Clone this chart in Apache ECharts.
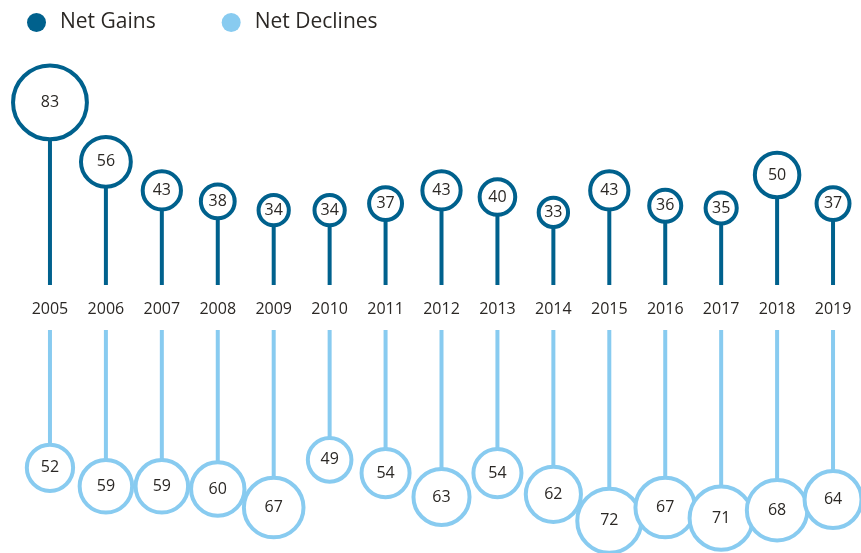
<!DOCTYPE html>
<html>
<head>
<meta charset="utf-8">
<script src="https://cdn.jsdelivr.net/npm/echarts@6/dist/echarts.min.js"></script>
<style>
	html, body { margin: 0; padding: 0; background: #fff; }
	#chart { width: 861px; height: 553px; }
</style>
</head>
<body>
<div id="chart"></div>
<script>
	const years = ['2005', '2006', '2007', '2008', '2009', '2010', '2011', '2012', '2013', '2014', '2015', '2016', '2017', '2018', '2019'];
	const netGains = [83, 56, 43, 38, 34, 34, 37, 43, 40, 33, 43, 36, 35, 50, 37];
	const netDeclines = [52, 59, 59, 60, 67, 49, 54, 63, 54, 62, 72, 67, 71, 68, 64];

	const dark = '#00618d';
	const light = '#88cbf0';
	const txt = '#2b2825';
	const font = 'Open Sans';

	var myChart = echarts.init(document.getElementById('chart'));
	myChart.setOption({
		animation: false,
		textStyle: { fontFamily: font },
		legend: {
			left: 22,
			top: 7,
			icon: 'circle',
			itemWidth: 19,
			itemHeight: 19,
			itemGap: 66,
			textStyle: { fontSize: 21, color: txt, fontFamily: font, padding: [0, 0, 0, 9] },
			data: [
				{ name: 'Net Gains', itemStyle: { color: dark, borderWidth: 0 } },
				{ name: 'Net Declines', itemStyle: { color: light, borderWidth: 0 } }
			]
		},
		grid: [
			{ left: 22, right: -2, top: 65, height: 220 },
			{ left: 22, right: -2, top: 330, height: 212 }
		],
		xAxis: [
			{
				type: 'category',
				gridIndex: 0,
				data: years,
				axisLine: { show: false },
				axisTick: { show: false },
				axisLabel: { margin: 16, fontSize: 16, color: txt, fontFamily: font }
			},
			{
				type: 'category',
				gridIndex: 1,
				data: years,
				show: false
			}
		],
		yAxis: [
			{ type: 'value', gridIndex: 0, min: 0, max: 100, show: false },
			{ type: 'value', gridIndex: 1, min: 0, max: 80, inverse: true, show: false }
		],
		series: [
			{
				name: 'Net Gains',
				type: 'bar',
				xAxisIndex: 0,
				yAxisIndex: 0,
				data: netGains,
				barWidth: 4,
				itemStyle: { color: dark },
				z: 1
			},
			{
				name: 'Net Gains',
				type: 'scatter',
				xAxisIndex: 0,
				yAxisIndex: 0,
				data: netGains,
				symbolSize: function (v) { return v * 0.89; },
				itemStyle: { color: '#fff', borderColor: dark, borderWidth: 4, opacity: 1 },
				label: { show: true, position: 'inside', fontSize: 16, color: txt, fontFamily: font },
				z: 3
			},
			{
				name: 'Net Declines',
				type: 'bar',
				xAxisIndex: 1,
				yAxisIndex: 1,
				data: netDeclines,
				barWidth: 4,
				itemStyle: { color: light },
				z: 1
			},
			{
				name: 'Net Declines',
				type: 'scatter',
				xAxisIndex: 1,
				yAxisIndex: 1,
				data: netDeclines,
				symbolSize: function (v) { return v * 0.89; },
				itemStyle: { color: '#fff', borderColor: light, borderWidth: 4, opacity: 1 },
				label: { show: true, position: 'inside', fontSize: 16, color: txt, fontFamily: font },
				z: 3
			}
		]
	});
</script>
</body>
</html>
